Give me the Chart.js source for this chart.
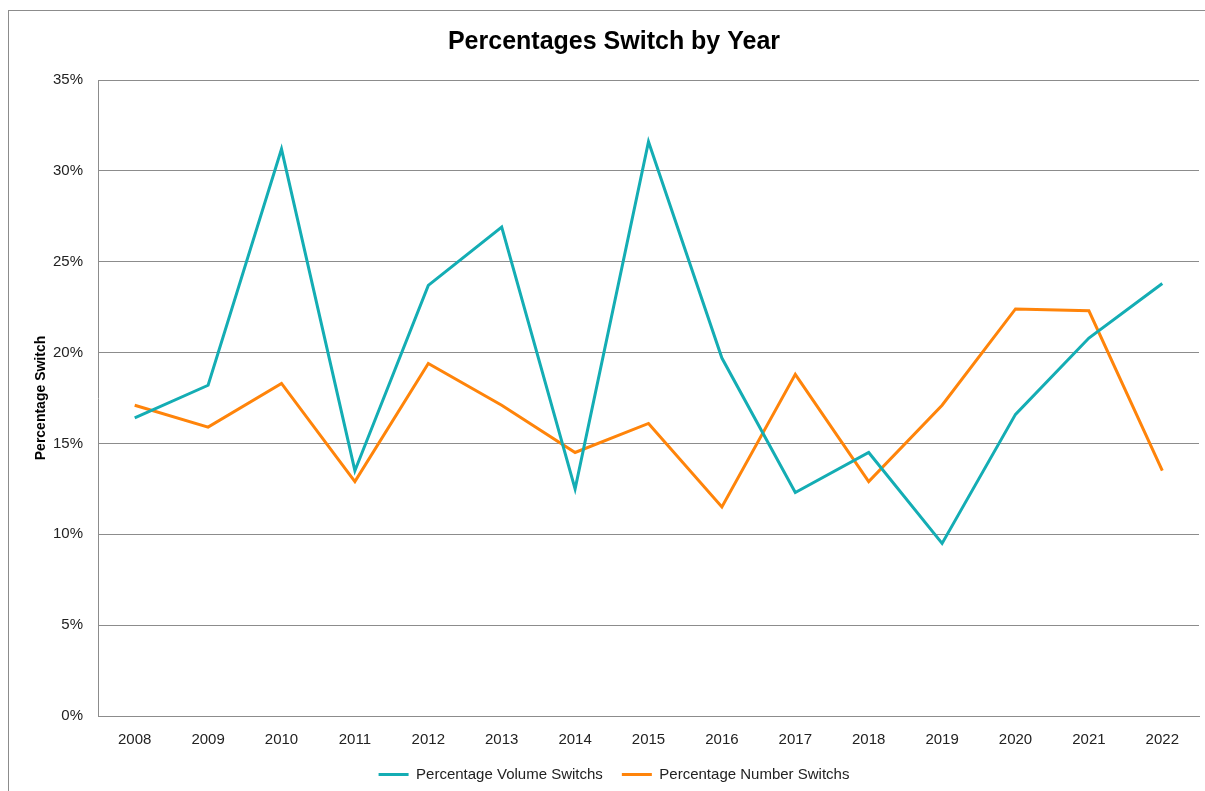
<!DOCTYPE html>
<html>
<head>
<meta charset="utf-8">
<script src="https://cdn.jsdelivr.net/npm/chart.js@4.4.1/dist/chart.umd.min.js"></script>
<style>
  html, body { margin: 0; padding: 0; background: #fff; overflow: hidden; }
  #frame { position: absolute; left: 8px; top: 10px; width: 1400px; height: 1000px; border: 1px solid #8c8c8c; }
  #wrap { position: absolute; left: 0; top: 0; width: 1205px; height: 791px; }
</style>
</head>
<body>
<div id="frame"></div>
<div id="wrap"><canvas id="chartSwitch" width="1205" height="791"></canvas></div>
<script>
const years = ["2008","2009","2010","2011","2012","2013","2014","2015","2016","2017","2018","2019","2020","2021","2022"];
const volumeSwitchs = [16.4, 18.2, 31.2, 13.5, 23.7, 26.9, 12.5, 31.6, 19.7, 12.3, 14.5, 9.5, 16.6, 20.8, 23.8];
const numberSwitchs = [17.1, 15.9, 18.3, 12.9, 19.4, 17.1, 14.5, 16.1, 11.5, 18.8, 12.9, 17.1, 22.4, 22.3, 13.5];
const seriesLabels = ["Percentage Volume Switchs", "Percentage Number Switchs"];

const tealColor = '#14adb4';
const orangeColor = '#ff840a';
const gridColor = '#8c8c8c';
const fontFamily = "'Liberation Sans', Arial, sans-serif";

// pull the legend closer to the x axis, like the excel chart
const legendNudge = {
  id: 'legendNudge',
  beforeLayout(chart) {
    const lg = chart.legend;
    if (lg && !lg._wrapped) {
      const orig = lg.update;
      lg.update = function() {
        orig.apply(this, arguments);
        this.height -= 21;
      };
      lg._wrapped = true;
    }
  },
  afterLayout(chart) {
    const lg = chart.legend;
    if (lg) {
      lg.top -= 16;
      lg.bottom += 5;
    }
  }
};

const data = {
  labels: years,
  datasets: [
    {
      label: seriesLabels[0],
      data: volumeSwitchs,
      borderColor: tealColor,
      backgroundColor: tealColor,
      borderWidth: 3,
      pointRadius: 0,
      tension: 0
    },
    {
      label: seriesLabels[1],
      data: numberSwitchs,
      borderColor: orangeColor,
      backgroundColor: orangeColor,
      borderWidth: 3,
      pointRadius: 0,
      tension: 0
    }
  ]
};

const config = {
  type: 'line',
  data: data,
  plugins: [legendNudge],
  options: {
    responsive: false,
    animation: false,
    layout: { padding: { left: 29, right: 6, top: 0, bottom: 4 } },
    plugins: {
      title: {
        display: true,
        text: 'Percentages Switch by Year',
        color: '#000',
        font: { family: fontFamily, size: 25, weight: 'bold', lineHeight: 1.2 },
        padding: { top: 27, bottom: 23 }
      },
      legend: {
        position: 'bottom',
        labels: {
          color: '#222',
          font: { family: fontFamily, size: 15 },
          boxWidth: 30,
          boxHeight: 3,
          padding: 19,
          generateLabels: function(chart) {
            const items = Chart.defaults.plugins.legend.labels.generateLabels(chart);
            items.forEach(function(it) { it.lineWidth = 0; });
            return items;
          }
        }
      },
      tooltip: { enabled: false }
    },
    scales: {
      x: {
        offset: true,
        grid: { display: false, drawTicks: false, offset: true },
        border: { display: true, color: gridColor, width: 1 },
        ticks: {
          color: '#222',
          font: { family: fontFamily, size: 15 },
          padding: 15,
          maxRotation: 0
        }
      },
      y: {
        min: 0,
        max: 35,
        grid: { color: gridColor, lineWidth: 1, drawTicks: false },
        border: { display: true, color: gridColor, width: 1 },
        ticks: {
          stepSize: 5,
          color: '#222',
          font: { family: fontFamily, size: 15 },
          padding: 15,
          callback: function(v) { return v + '%'; }
        },
        title: {
          display: true,
          text: 'Percentage Switch',
          color: '#000',
          font: { family: fontFamily, size: 14, weight: 'bold' },
          padding: { top: 4, bottom: 0 }
        },
        afterFit: function(scale) { scale.width = 69; }
      }
    }
  }
};

const myChart = new Chart(document.getElementById('chartSwitch'), config);
</script>
</body>
</html>
